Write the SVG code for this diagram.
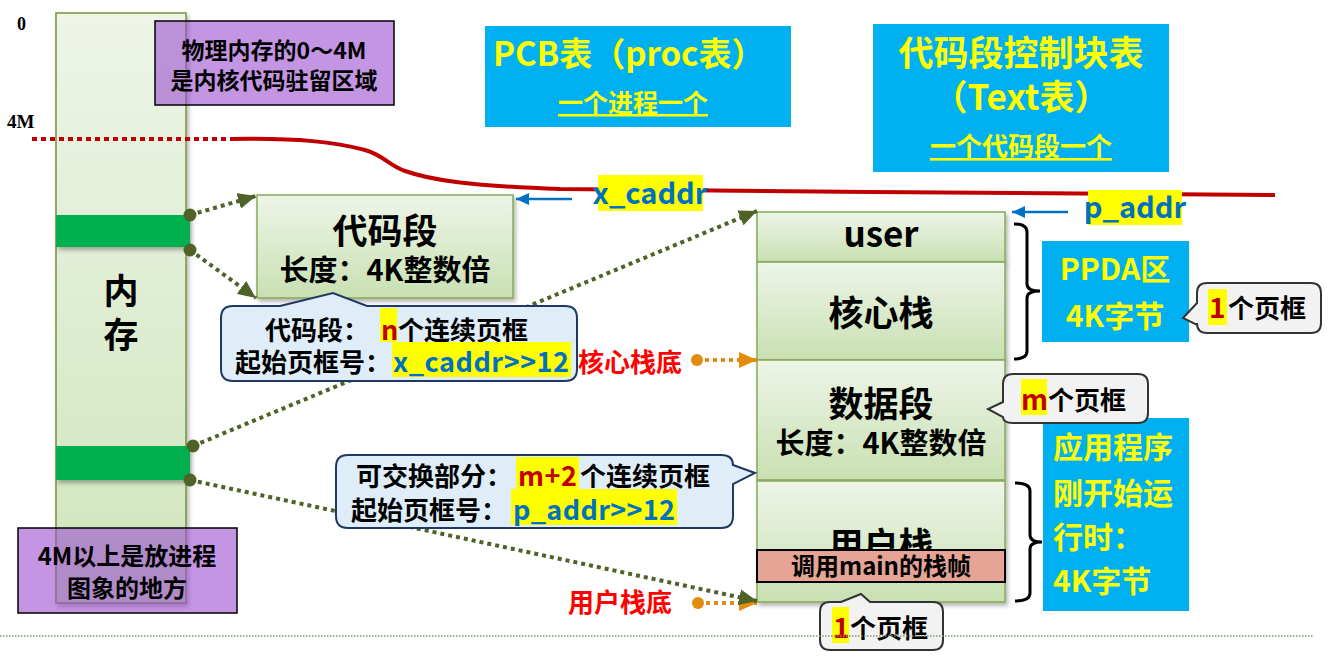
<svg xmlns="http://www.w3.org/2000/svg" width="1329" height="659" viewBox="0 0 1329 659">
<style>
.t{font-family:"Noto Sans CJK SC","Noto Sans",sans-serif;font-weight:700}
.k{fill:#000}
.y{fill:#ffff00}
.b{fill:#0070c0}
.r{fill:#ff0000}
.dr{fill:#c00000}
.hl{fill:#ffff00}
.sec{fill:url(#boxGrad);stroke:#86a957;stroke-width:1.5}
.purple{fill:#9b4fd0;fill-opacity:0.6;stroke:#000;stroke-width:1.5}
.cyan{fill:#00b0f0}
.callA{fill:#deedf7;stroke:#1f3864;stroke-width:2}
.callG{fill:#f2f2f2;stroke:#333;stroke-width:2}
.gdot{fill:none;stroke:#4f6228;stroke-width:4;stroke-dasharray:4 4}
.odot{fill:none;stroke:#e38b0c;stroke-width:4;stroke-dasharray:4 4}
.barr{fill:none;stroke:#0070c0;stroke-width:2.5}
.brace{fill:none;stroke:#000;stroke-width:3}
</style>
<defs>
<linearGradient id="boxGrad" x1="0" y1="0" x2="0" y2="1">
<stop offset="0" stop-color="#eef5e8"/><stop offset="1" stop-color="#c8e0b2"/>
</linearGradient>
<linearGradient id="colGrad" x1="0" y1="0" x2="0" y2="1">
<stop offset="0" stop-color="#eef5e8"/><stop offset="1" stop-color="#cfe5bb"/>
</linearGradient>
<filter id="sh" x="-10%" y="-10%" width="130%" height="140%">
<feDropShadow dx="2" dy="3" stdDeviation="2" flood-color="#000" flood-opacity="0.3"/>
</filter>
<marker id="ga" markerUnits="userSpaceOnUse" markerWidth="20" markerHeight="16" refX="18" refY="8" orient="auto"><path d="M0,0 L18,8 L0,16 z" fill="#4f6228"/></marker>
<marker id="oa" markerUnits="userSpaceOnUse" markerWidth="20" markerHeight="16" refX="18" refY="8" orient="auto"><path d="M0,0 L18,8 L0,16 z" fill="#e38b0c"/></marker>
<marker id="ba" markerUnits="userSpaceOnUse" markerWidth="14" markerHeight="12" refX="13" refY="6" orient="auto"><path d="M0,0 L13,6 L0,12 z" fill="#0070c0"/></marker>
</defs>
<rect width="1329" height="659" fill="#fff"/>

<g id="memory">
<rect x="56" y="13" width="130" height="590" fill="url(#colGrad)" stroke="#77933c" stroke-width="1.5" filter="url(#sh)"/>
<rect x="56" y="215" width="134" height="32" fill="#00b050" filter="url(#sh)"/>
<rect x="56" y="446" width="134" height="34" fill="#00b050" filter="url(#sh)"/>
<text class="t k" x="121" y="304" font-size="35" text-anchor="middle">内</text>
<text class="t k" x="121" y="348" font-size="35" text-anchor="middle">存</text>
<circle cx="190" cy="215" r="6.5" fill="#4f6228"/>
<circle cx="190" cy="250" r="6.5" fill="#4f6228"/>
<circle cx="193" cy="446" r="6.5" fill="#4f6228"/>
<circle cx="190" cy="480" r="6.5" fill="#4f6228"/>
</g>

<g id="label-0"><text x="17" y="30" font-family="Liberation Serif" font-weight="700" font-size="18">0</text></g>
<g id="label-4M"><text x="7" y="128" font-family="Liberation Serif" font-weight="700" font-size="19">4M</text></g>

<g id="note-kernel">
<rect class="purple" x="155" y="21" width="239" height="84"/>
<text class="t k" x="274" y="59" font-size="23" text-anchor="middle">物理内存的0～4M</text>
<text class="t k" x="274" y="89" font-size="23" text-anchor="middle">是内核代码驻留区域</text>
</g>

<g id="note-user">
<rect class="purple" x="18" y="528" width="219" height="85"/>
<text class="t k" x="127" y="565" font-size="24" text-anchor="middle">4M以上是放进程</text>
<text class="t k" x="127" y="597" font-size="24" text-anchor="middle">图象的地方</text>
</g>

<g id="boundary">
<path d="M32,139 L230,139" fill="none" stroke="#c00000" stroke-width="4" stroke-dasharray="5 4"/>
<path d="M230,139 C300,138 335,142 365,150 C385,156 388,165 405,171 C430,180 470,186 560,189 L870,192 L1275,195" fill="none" stroke="#c00000" stroke-width="4"/>
</g>

<g id="pcb-table">
<rect class="cyan" x="485" y="26" width="306" height="101"/>
<text class="t y" x="493" y="66" font-size="33">PCB表（proc表）</text>
<text class="t y" x="633" y="112" font-size="25" text-anchor="middle" text-decoration="underline">一个进程一个</text>
</g>

<g id="text-table">
<rect class="cyan" x="873" y="24" width="296" height="148"/>
<text class="t y" x="1021" y="66" font-size="35" text-anchor="middle">代码段控制块表</text>
<text class="t y" x="1021" y="110" font-size="35" text-anchor="middle">（Text表）</text>
<text class="t y" x="1021" y="156" font-size="26" text-anchor="middle" text-decoration="underline">一个代码段一个</text>
</g>

<g id="code-segment">
<rect class="sec" x="257" y="195" width="256" height="103" filter="url(#sh)"/>
<text class="t k" x="385" y="244" font-size="35" text-anchor="middle">代码段</text>
<text class="t k" x="385" y="281" font-size="29" text-anchor="middle">长度：4K整数倍</text>
</g>

<g id="x-caddr">
<rect class="hl" x="598" y="175" width="105" height="36"/>
<text class="t b" x="650" y="204" font-size="29" text-anchor="middle">x_caddr</text>
</g>

<g id="p-addr">
<rect class="hl" x="1088" y="190" width="94" height="35"/>
<text class="t b" x="1135" y="218" font-size="29" text-anchor="middle">p_addr</text>
</g>

<g id="process-image">
<rect class="sec" x="757" y="212" width="248" height="50" filter="url(#sh)"/>
<rect class="sec" x="757" y="262" width="248" height="98" filter="url(#sh)"/>
<rect class="sec" x="757" y="360" width="248" height="120" filter="url(#sh)"/>
<rect class="sec" x="757" y="481" width="248" height="121" filter="url(#sh)"/>
<text class="t k" x="881" y="247" font-size="35" text-anchor="middle">user</text>
<text class="t k" x="881" y="326" font-size="35" text-anchor="middle">核心栈</text>
<text class="t k" x="881" y="417" font-size="35" text-anchor="middle">数据段</text>
<text class="t k" x="881" y="454" font-size="29" text-anchor="middle">长度：4K整数倍</text>
<text class="t k" x="881" y="558" font-size="35" text-anchor="middle">用户栈</text>
<rect x="757" y="550" width="248" height="32" fill="#e5a496" stroke="#000" stroke-width="2"/>
<text class="t k" x="881" y="575" font-size="24" text-anchor="middle">调用main的栈帧</text>
</g>

<g id="braces">
<path class="brace" d="M1014,224 Q1027,224 1027,232 L1027,284 Q1027,291 1040,291 Q1027,291 1027,298 L1027,351 Q1027,359 1014,359"/>
<path class="brace" d="M1015,483 Q1030,483 1030,491 L1030,535 Q1030,542 1042,542 Q1030,542 1030,549 L1030,593 Q1030,601 1015,601"/>
</g>

<g id="ppda">
<rect class="cyan" x="1042" y="241" width="147" height="101"/>
<text class="t y" x="1115" y="280" font-size="30" text-anchor="middle">PPDA区</text>
<text class="t y" x="1115" y="327" font-size="30" text-anchor="middle">4K字节</text>
</g>

<g id="app-start">
<rect class="cyan" x="1043" y="418" width="146" height="193"/>
<text class="t y" x="1053" y="458" font-size="30">应用程序</text>
<text class="t y" x="1053" y="504" font-size="30">刚开始运</text>
<text class="t y" x="1053" y="548" font-size="30">行时：</text>
<text class="t y" x="1053" y="592" font-size="30">4K字节</text>
</g>

<g id="connectors">
<line class="gdot" x1="190" y1="215" x2="256" y2="196" marker-end="url(#ga)"/>
<line class="gdot" x1="190" y1="250" x2="256" y2="298" marker-end="url(#ga)"/>
<line class="gdot" x1="193" y1="446" x2="757" y2="211" marker-end="url(#ga)"/>
<line class="odot" x1="697" y1="360" x2="757" y2="360" marker-end="url(#oa)"/>
<line class="odot" x1="698" y1="603" x2="757" y2="603" marker-end="url(#oa)"/>
<line class="gdot" x1="190" y1="480" x2="757" y2="601" marker-end="url(#ga)"/>
<circle cx="697" cy="360" r="6" fill="#e38b0c"/>
<circle cx="698" cy="603" r="6" fill="#e38b0c"/>
<line class="barr" x1="572" y1="199" x2="516" y2="199" marker-end="url(#ba)"/>
<line class="barr" x1="1068" y1="212" x2="1012" y2="212" marker-end="url(#ba)"/>
</g>

<g id="callout-code">
<path class="callA" d="M233,306 L280,306 L333,293 L367,306 L565,306 Q577,306 577,318 L577,369 Q577,381 565,381 L233,381 Q221,381 221,369 L221,318 Q221,306 233,306 Z"/>
<text class="t k" x="265" y="340" font-size="26">代码段：</text>
<rect class="hl" x="380" y="308" width="17" height="34"/>
<text class="t dr" x="381" y="340" font-size="27">n</text>
<text class="t k" x="398" y="340" font-size="26">个连续页框</text>
<text class="t k" x="235" y="372" font-size="26">起始页框号：</text>
<rect class="hl" x="392" y="342" width="179" height="35"/>
<text class="t b" x="393" y="372" font-size="27" textLength="176" lengthAdjust="spacing">x_caddr&gt;&gt;12</text>
</g>

<g id="label-kstack-bottom"><text class="t r" x="578" y="372" font-size="26">核心栈底</text></g>

<g id="callout-swap">
<path class="callA" d="M348,455 L721,455 Q733,455 733,465 L755,473 L733,484 L733,516 Q733,528 721,528 L348,528 Q336,528 336,516 L336,467 Q336,455 348,455 Z"/>
<text class="t k" x="356" y="486" font-size="26">可交换部分：</text>
<rect class="hl" x="516" y="457" width="63" height="32"/>
<text class="t dr" x="518" y="486" font-size="27" textLength="59" lengthAdjust="spacing">m+2</text>
<text class="t k" x="580" y="486" font-size="26">个连续页框</text>
<text class="t k" x="351" y="520" font-size="26">起始页框号：</text>
<rect class="hl" x="511" y="489" width="166" height="36"/>
<text class="t b" x="513" y="520" font-size="27" textLength="162" lengthAdjust="spacing">p_addr&gt;&gt;12</text>
</g>

<g id="label-ustack-bottom"><text class="t r" x="568" y="612" font-size="26">用户栈底</text></g>

<g id="callout-ppda-frame">
<path class="callG" d="M1207,283 L1311,283 Q1321,283 1321,293 L1321,323 Q1321,333 1311,333 L1207,333 Q1197,333 1197,323 L1197,325 L1183,318 L1197,303 L1197,293 Q1197,283 1207,283 Z"/>
<rect class="hl" x="1208" y="289" width="19" height="36"/>
<text class="t dr" x="1209" y="318" font-size="28">1</text>
<text class="t k" x="1228" y="318" font-size="26">个页框</text>
</g>

<g id="callout-data-frames">
<path class="callG" d="M1013,374 L1138,374 Q1148,374 1148,384 L1148,413 Q1148,423 1138,423 L1013,423 Q1003,423 1003,417 L988,409 L1003,402 L1003,384 Q1003,374 1013,374 Z"/>
<rect class="hl" x="1021" y="379" width="26" height="36"/>
<text class="t dr" x="1021" y="410" font-size="28">m</text>
<text class="t k" x="1048" y="410" font-size="26">个页框</text>
</g>

<g id="callout-ustack-frame">
<path class="callG" d="M830,602 L841,602 L861,594 L870,602 L933,602 Q943,602 943,612 L943,640 Q943,650 933,650 L830,650 Q820,650 820,640 L820,612 Q820,602 830,602 Z"/>
<rect class="hl" x="832" y="607" width="17" height="36"/>
<text class="t dr" x="833" y="638" font-size="28">1</text>
<text class="t k" x="850" y="638" font-size="26">个页框</text>
</g>

<g id="footer-line">
<line x1="0" y1="636" x2="1313" y2="636" stroke="#7a9a6a" stroke-width="1.5" stroke-dasharray="1.5 1.5"/>
</g>
</svg>
